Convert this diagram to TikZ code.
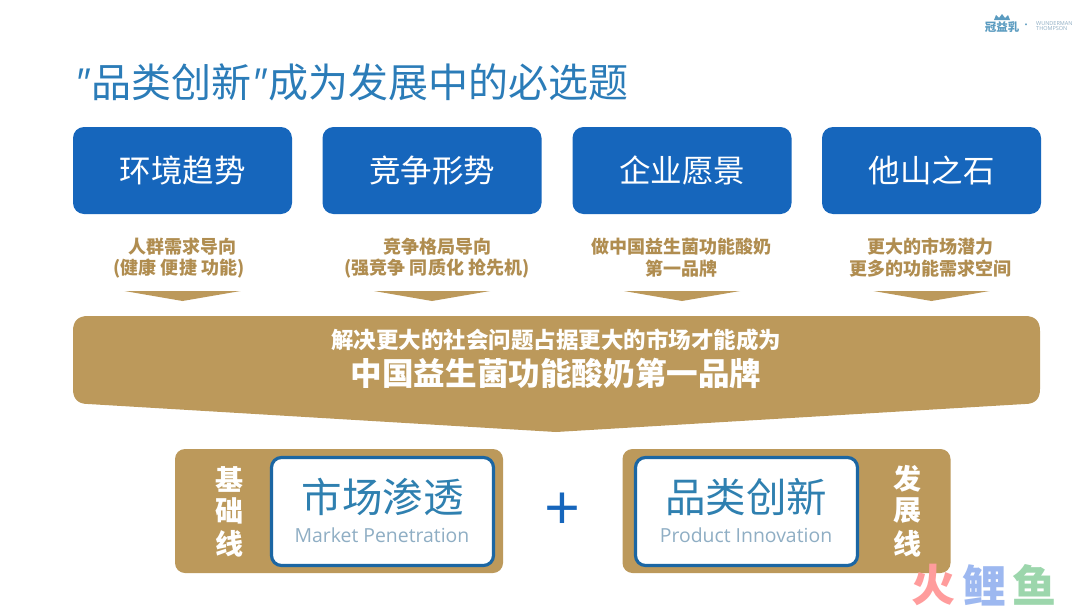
\documentclass[tikz,border=0pt]{standalone}
\usepackage{fontspec}
\setmainfont{Noto Sans CJK SC}
\newfontfamily\latinlight{Open Sans}
\usetikzlibrary{calc}
\definecolor{boxblue}{HTML}{1666BC}
\definecolor{gold}{HTML}{BC995B}
\definecolor{goldtext}{HTML}{B08D50}
\definecolor{titleblue}{HTML}{2B7CB8}
\definecolor{frameblue}{HTML}{1B66A3}
\definecolor{inktext}{HTML}{2F80B0}
\definecolor{subgrey}{HTML}{8FAEC4}
\definecolor{logoblue}{HTML}{5A9BC0}
\definecolor{wmred}{HTML}{FF9C9C}
\definecolor{wmblue}{HTML}{9DB8F0}
\definecolor{wmgreen}{HTML}{9CD6AC}
\newcommand{\fs}[1]{\fontsize{#1}{#1}\selectfont}
\tikzset{
  x=1pt,y=-1pt,
  bluebox/.style={draw=none,fill=boxblue,rounded corners=11pt,minimum width=219pt,minimum height=87pt,inner sep=0pt,text=white,font=\fs{31.5}},
  cause/.style={text=goldtext,font=\fs{18}\bfseries,align=center,inner sep=0pt},
  wedge/.style={fill=gold,draw=none},
  plate/.style={fill=gold,draw=none,rounded corners=10pt,minimum width=328pt,minimum height=124pt,inner sep=0pt},
  card/.style={fill=white,draw=frameblue,line width=3.2pt,rounded corners=10pt,minimum width=222pt,minimum height=108pt,inner sep=0pt},
  cardhead/.style={text=inktext,font=\fs{40.5},inner sep=0pt},
  cardsub/.style={text=subgrey,font=\latinlight\fs{19.4},inner sep=0pt},
  side/.style={text=white,font=\fs{28}\bfseries,align=center,inner sep=0pt},
}
\begin{document}
\begin{tikzpicture}
\useasboundingbox (0,0) rectangle (1080,608);
\fill[white] (0,0) rectangle (1080,608);
% title
\node[anchor=west,inner sep=0pt,text=titleblue,font=\fs{40}] (title) at (74,82) {{\latinlight\textit{"}}\hspace{1pt}品类创新{\latinlight\textit{"}}\hspace{1pt}成为发展中的必选题};
% logo
\node[inner sep=0pt,text=logoblue,font=\fs{11.5}\bfseries] (logoa) at (1002,27) {冠益乳};
\fill[logoblue] (994,20) -- (996,15) -- (999,18) -- (1002,14) -- (1005,18) -- (1008,15) -- (1010,20) -- cycle;
\node[inner sep=0pt,text=logoblue,font=\fs{7}\bfseries] (logodot) at (1026,26) {•};
\node[anchor=west,inner sep=0pt,text=subgrey,font=\latinlight\fs{5.5},align=left] (logob) at (1036,26) {WUNDERMAN\\[-0.5pt]THOMPSON};
% top boxes
\node[bluebox] (b1) at (182.5,170.5) {环境趋势};
\node[bluebox] (b2) at (432,170.5) {竞争形势};
\node[bluebox] (b3) at (682,170.5) {企业愿景};
\node[bluebox] (b4) at (931.5,170.5) {他山之石};
% causes
\node[cause] (c1a) at (182,246.5) {人群需求导向};
\node[cause] (c1b) at (179,268.5) {(健康 便捷 功能)};
\node[cause] (c2a) at (437,246.5) {竞争格局导向};
\node[cause] (c2b) at (437,268.5) {(强竞争 同质化 抢先机)};
\node[cause] (c3a) at (681,246.5) {做中国益生菌功能酸奶};
\node[cause] (c3b) at (681,268.5) {第一品牌};
\node[cause] (c4a) at (930,246.5) {更大的市场潜力};
\node[cause] (c4b) at (930,268.5) {更多的功能需求空间};
% wedges
\foreach \cx in {182.5,432,682,931.5}
  \fill[wedge] (\cx-58,291) -- (\cx+58,291) -- (\cx,301) -- cycle;
% banner
\fill[gold] (88,316) -- (1025,316) .. controls (1035,316) and (1040,321) .. (1040,331) -- (1040,389)
  .. controls (1040,399) and (1035,404) .. (1025,404) -- (556,432) -- (88,404)
  .. controls (78,404) and (73,399) .. (73,389) -- (73,331) .. controls (73,321) and (78,316) .. (88,316) -- cycle;
\node[inner sep=0pt,text=white,font=\fs{22.5}\bfseries] (bannera) at (556,340) {解决更大的社会问题占据更大的市场才能成为};
\node[inner sep=0pt,text=white,font=\fs{31.6}\bfseries] (bannerb) at (556,373) {中国益生菌功能酸奶第一品牌};
% lower left
\node[plate] (pl) at (339,511) {};
\node[card] (cl) at (382.5,511.5) {};
\node[cardhead] (hl) at (382.5,497) {市场渗透};
\node[cardsub] (sl) at (382,535) {Market Penetration};
\node[side] (s1) at (229,479) {基};
\node[side] (s2) at (229,511) {础};
\node[side] (s3) at (229,544) {线};
% plus
\node[inner sep=0pt,text=boxblue,font=\latinlight\fs{63}] (plus) at (563,512) {+};
% lower right
\node[plate] (pr) at (786.5,511) {};
\node[card] (cr) at (746.5,511.5) {};
\node[cardhead] (hr) at (746,497) {品类创新};
\node[cardsub] (sr) at (746,535) {Product Innovation};
\node[side] (s4) at (907,479) {发};
\node[side] (s5) at (907,511) {展};
\node[side] (s6) at (907,544) {线};
% watermark
\node[inner sep=0pt,text=wmred,font=\fs{44}\bfseries] (w1) at (933,585) {火};
\node[inner sep=0pt,text=wmblue,font=\fs{44}\bfseries] (w2) at (984,585) {鲤};
\node[inner sep=0pt,text=wmgreen,font=\fs{44}\bfseries] (w3) at (1034,585) {鱼};
\end{tikzpicture}
\end{document}
